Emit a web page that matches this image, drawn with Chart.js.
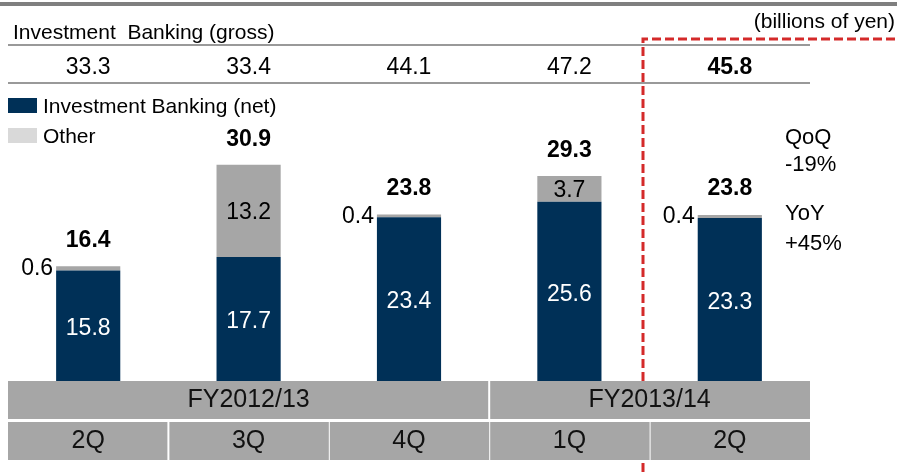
<!DOCTYPE html>
<html>
<head>
<meta charset="utf-8">
<script src="https://cdn.jsdelivr.net/npm/chart.js@4.4.0/dist/chart.umd.min.js"></script>
<style>
  body { margin: 0; background: #fff; }
  canvas { display: block; }
</style>
</head>
<body>
<canvas id="ibChart" width="897" height="472"></canvas>
<script>
// values in billions of yen
const quarters = ['2Q', '3Q', '4Q', '1Q', '2Q'];
const fiscalYears = ['FY2012/13', 'FY2013/14'];
const fiscalYearSpans = [3, 2];
const grossValues = [33.3, 33.4, 44.1, 47.2, 45.8];
const netValues = [15.8, 17.7, 23.4, 25.6, 23.3];
const otherValues = [0.6, 13.2, 0.4, 3.7, 0.4];
const totalValues = [16.4, 30.9, 23.8, 29.3, 23.8];
const qoqText = ['QoQ', '-19%'];
const yoyText = ['YoY', '+45%'];

const NAVY = '#003057';
const GREY = '#a6a6a6';
const FONT = '"Liberation Sans", Arial, sans-serif';

const labels = quarters.map((q, i) => (i < 3 ? fiscalYears[0] : fiscalYears[1]) + ' ' + q);

function text(ctx, str, x, y, size, opts = {}) {
  ctx.save();
  ctx.font = (opts.bold ? 'bold ' : '') + size + 'px ' + FONT;
  ctx.fillStyle = opts.color || '#000';
  ctx.textAlign = opts.align || 'center';
  ctx.textBaseline = opts.baseline || 'alphabetic';
  ctx.fillText(str, x, y);
  ctx.restore();
}

const decorations = {
  id: 'decorations',
  afterDraw(chart) {
    const ctx = chart.ctx;
    const xs = chart.scales.x;
    const ys = chart.scales.y;
    const area = chart.chartArea;
    const colW = (area.right - area.left) / quarters.length;

    // top rule + header table lines
    ctx.save();
    ctx.fillStyle = '#7f7f7f';
    ctx.fillRect(0, 2, chart.width, 4);
    ctx.strokeStyle = '#999';
    ctx.lineWidth = 2;
    [45, 83].forEach(y => {
      ctx.beginPath();
      ctx.moveTo(8, y);
      ctx.lineTo(810, y);
      ctx.stroke();
    });
    ctx.restore();

    text(ctx, 'Investment  Banking (gross)', 13, 39, 21, { align: 'left' });
    text(ctx, '(billions of yen)', 895, 28, 21, { align: 'right' });
    grossValues.forEach((v, i) => {
      text(ctx, v.toFixed(1), xs.getPixelForValue(i), 74, 23, { bold: i === grossValues.length - 1 });
    });

    // legend
    ctx.fillStyle = NAVY;
    ctx.fillRect(8, 98, 29, 15);
    ctx.fillStyle = '#d9d9d9';
    ctx.fillRect(8, 128, 29, 15);
    text(ctx, 'Investment Banking (net)', 43, 113, 21, { align: 'left' });
    text(ctx, 'Other', 43, 143, 21, { align: 'left' });

    // bar labels
    const netMeta = chart.getDatasetMeta(0);
    const otherMeta = chart.getDatasetMeta(1);
    totalValues.forEach((t, i) => {
      const nb = netMeta.data[i];
      const ob = otherMeta.data[i];
      const half = nb.width / 2;
      const top = ys.getPixelForValue(t);
      text(ctx, t.toFixed(1), nb.x, top - 19, 23, { bold: true });
      text(ctx, netValues[i].toFixed(1), nb.x, (nb.y + nb.base) / 2 + 3, 23,
        { color: '#fff', baseline: 'middle' });
      if (otherValues[i] < 1) {
        text(ctx, otherValues[i].toFixed(1), nb.x - half - 3, ob.y + 2, 23,
          { align: 'right', baseline: 'middle' });
      } else {
        text(ctx, otherValues[i].toFixed(1), nb.x, (ob.y + ob.base) / 2 + 2, 23,
          { baseline: 'middle' });
      }
    });

    text(ctx, qoqText[0], 785, 144, 22, { align: 'left' });
    text(ctx, qoqText[1], 785, 171, 22, { align: 'left' });
    text(ctx, yoyText[0], 785, 220, 22, { align: 'left' });
    text(ctx, yoyText[1], 785, 250, 22, { align: 'left' });

    // red dashed highlight
    ctx.save();
    ctx.strokeStyle = '#d42a2a';
    ctx.lineWidth = 3;
    ctx.setLineDash([9, 4]);
    ctx.beginPath();
    ctx.moveTo(643, chart.height);
    ctx.lineTo(643, 39);
    ctx.lineTo(chart.width, 39);
    ctx.stroke();
    ctx.restore();

    // period table (white backing hides the dashed line)
    ctx.fillStyle = '#fff';
    ctx.fillRect(area.left, area.bottom, area.right - area.left, 79);
    let start = 0;
    fiscalYears.forEach((fy, k) => {
      const x0 = area.left + start * colW;
      const x1 = area.left + (start + fiscalYearSpans[k]) * colW;
      ctx.fillStyle = GREY;
      ctx.fillRect(x0 + (k ? 1 : 0), area.bottom, x1 - x0 - 1, 38);
      text(ctx, fy, (x0 + x1) / 2, 400, 25, { baseline: 'middle', color: '#111' });
      start += fiscalYearSpans[k];
    });
    quarters.forEach((q, i) => {
      const x0 = area.left + i * colW;
      ctx.fillStyle = GREY;
      ctx.fillRect(x0 + (i ? 1 : 0), area.bottom + 41, colW - 1, 38);
      text(ctx, q, x0 + colW / 2, area.bottom + 60, 25, { baseline: 'middle', color: '#111' });
    });
  }
};

new Chart(document.getElementById('ibChart'), {
  type: 'bar',
  data: {
    labels,
    datasets: [
      { label: 'Investment Banking (net)', data: netValues, backgroundColor: NAVY },
      { label: 'Other', data: otherValues, backgroundColor: GREY }
    ]
  },
  options: {
    responsive: false,
    animation: false,
    barPercentage: 0.4,
    categoryPercentage: 1,
    layout: { padding: { left: 8, right: 87, top: 136, bottom: 91 } },
    scales: {
      x: { stacked: true, display: false },
      y: { stacked: true, display: false, min: 0, max: 35 }
    },
    plugins: { legend: { display: false }, tooltip: { enabled: false } }
  },
  plugins: [decorations]
});
</script>
</body>
</html>
